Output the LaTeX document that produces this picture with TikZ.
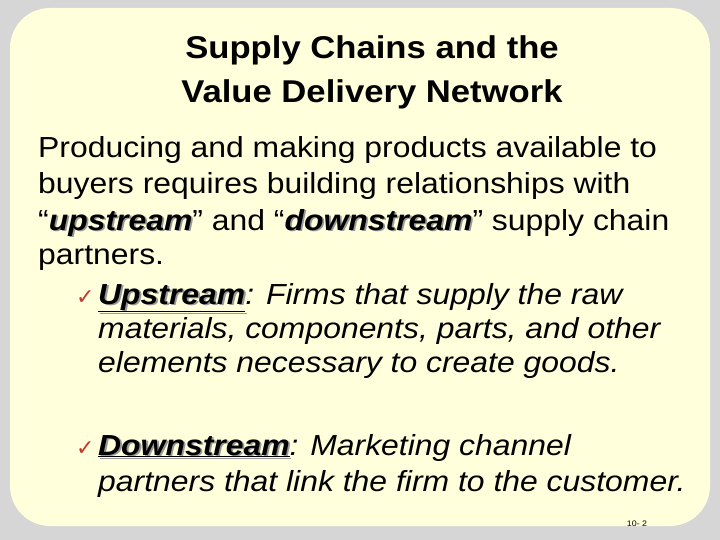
\documentclass[tikz,border=0pt]{standalone}
\usepackage{fontspec}
\setmainfont{Liberation Sans}[FakeStretch=1.1]
\newfontfamily\dejavu{DejaVu Sans}
\definecolor{panel}{HTML}{FFFFDC}
\definecolor{marble}{HTML}{D6D6D6}
\definecolor{chk}{HTML}{C0392B}
\newcommand\shad[1]{\rlap{\kern1.8pt\raisebox{-1.8pt}{\color{gray!80}#1}}#1}
\tikzset{line/.style={anchor=base west,inner sep=0pt,font=\fontsize{29}{34}\selectfont},
 title/.style={anchor=base,inner sep=0pt,font=\fontsize{31.5}{36}\selectfont\bfseries}}
\begin{document}
\begin{tikzpicture}[x=1pt,y=-1pt]
\useasboundingbox (0,0) rectangle (720,540);
\fill[marble] (0,0) rectangle (720,540);
\fill[panel,rounded corners=40pt] (10,8) rectangle (710,526);
\node[title] (t1) at (372,59) {Supply Chains and the};
\node[title] (t2) at (372,103) {Value Delivery Network};
\node[line] (l1) at (38,158) {Producing and making products available to};
\node[line] (l2) at (38,194) {buyers requires building relationships with};
\node[line] (l3) at (38,230) {“\shad{\textbf{\textit{upstream}}}” and “\shad{\textbf{\textit{downstream}}}” supply chain};
\node[line] (l4) at (38,264) {partners.};
\node[line] (c1) at (76,304) {\dejavu\fontsize{22}{24}\selectfont\color{chk}✓};
\node[line] (b1) at (98,304) {\shad{\underline{\textbf{\textit{Upstream}}}}\textit{: Firms that supply the raw}};
\node[line] (b2) at (98,338) {\textit{materials, components, parts, and other}};
\node[line] (b3) at (98,372) {\textit{elements necessary to create goods.}};
\node[line] (c2) at (76,455) {\dejavu\fontsize{22}{24}\selectfont\color{chk}✓};
\node[line] (b4) at (98,455) {\shad{\underline{\textbf{\textit{Downstream}}}}\textit{: Marketing channel}};
\node[line] (b5) at (98,491) {\textit{partners that link the firm to the customer.}};
\node[anchor=base,inner sep=0pt,font=\fontsize{8}{10}\selectfont] (pg) at (637,526) {10- 2};
\end{tikzpicture}
\end{document}
